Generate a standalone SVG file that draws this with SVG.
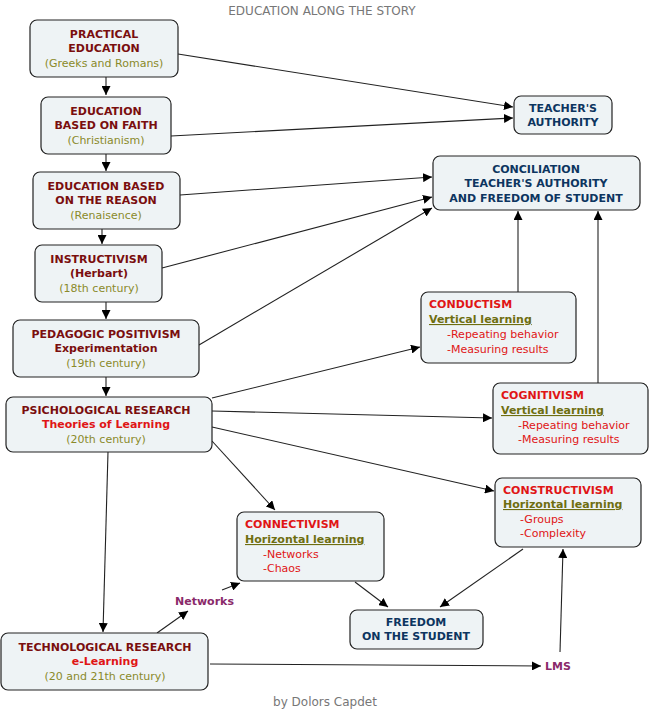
<svg xmlns="http://www.w3.org/2000/svg" width="650" height="723" viewBox="0 0 650 723">
<style>
text{font-family:"DejaVu Sans",Verdana,sans-serif;font-size:11px}
.n{fill:#eef3f5;stroke:#222;stroke-width:1.2}
.t{fill:#7a0e0e;font-weight:bold;text-anchor:middle}
.s{fill:#8a8a2a;text-anchor:middle}
.b{fill:#0d3560;font-weight:bold;text-anchor:middle}
.r{fill:#e01515;font-weight:bold}
.u{fill:#6e6e10;font-weight:bold;text-decoration:underline}
.i{fill:#e01515}
.l{fill:#8a2a6a;font-weight:bold}
.g{fill:#777;font-size:12px;text-anchor:middle}
#edges line{stroke:#222;stroke-width:1.1}
</style>
<defs><marker id="a" viewBox="0 0 10 10" refX="10" refY="5" markerWidth="9" markerHeight="9" markerUnits="userSpaceOnUse" orient="auto"><path d="M0,0L10,5L0,10z" fill="#000"/></marker></defs>
<text class="g" x="322" y="15">EDUCATION ALONG THE STORY</text>
<text class="g" x="325" y="706">by Dolors Capdet</text>
<g id="edges">
<line x1="106" y1="77" x2="106" y2="95" marker-end="url(#a)"/>
<line x1="106" y1="154" x2="106" y2="171" marker-end="url(#a)"/>
<line x1="102" y1="229" x2="102" y2="244" marker-end="url(#a)"/>
<line x1="106" y1="302" x2="106" y2="319" marker-end="url(#a)"/>
<line x1="106" y1="377" x2="106" y2="396" marker-end="url(#a)"/>
<line x1="108" y1="452" x2="103" y2="632" marker-end="url(#a)"/>
<line x1="178" y1="54" x2="513" y2="107" marker-end="url(#a)"/>
<line x1="171" y1="136" x2="513" y2="118" marker-end="url(#a)"/>
<line x1="180" y1="195" x2="432" y2="177" marker-end="url(#a)"/>
<line x1="162" y1="268" x2="432" y2="197" marker-end="url(#a)"/>
<line x1="199" y1="345" x2="432" y2="208" marker-end="url(#a)"/>
<line x1="518" y1="292" x2="518" y2="211" marker-end="url(#a)"/>
<line x1="598" y1="383" x2="598" y2="211" marker-end="url(#a)"/>
<line x1="212" y1="398" x2="420" y2="347" marker-end="url(#a)"/>
<line x1="212" y1="411" x2="492" y2="418" marker-end="url(#a)"/>
<line x1="212" y1="427" x2="494" y2="491" marker-end="url(#a)"/>
<line x1="212" y1="441" x2="275" y2="510" marker-end="url(#a)"/>
<line x1="157" y1="633" x2="188" y2="611" marker-end="url(#a)"/>
<line x1="222" y1="590" x2="240" y2="583" marker-end="url(#a)"/>
<line x1="210" y1="664" x2="541" y2="666" marker-end="url(#a)"/>
<line x1="560" y1="652" x2="563" y2="549" marker-end="url(#a)"/>
<line x1="523" y1="549" x2="440" y2="607" marker-end="url(#a)"/>
<line x1="355" y1="582" x2="388" y2="607" marker-end="url(#a)"/>
</g>
<text class="l" x="175" y="605">Networks</text>
<text class="l" x="545" y="670">LMS</text>
<g id="practical"><rect class="n" x="30" y="20" width="148" height="57" rx="7"/><text class="t" x="104" y="38">PRACTICAL</text><text class="t" x="104" y="52">EDUCATION</text><text class="s" x="104" y="67">(Greeks and Romans)</text></g>
<g id="faith"><rect class="n" x="41" y="97" width="130" height="57" rx="7"/><text class="t" x="106" y="115">EDUCATION</text><text class="t" x="106" y="129">BASED ON FAITH</text><text class="s" x="106" y="144">(Christianism)</text></g>
<g id="reason"><rect class="n" x="33" y="172" width="147" height="57" rx="7"/><text class="t" x="106" y="190">EDUCATION BASED</text><text class="t" x="106" y="204">ON THE REASON</text><text class="s" x="106" y="219">(Renaisence)</text></g>
<g id="instr"><rect class="n" x="35" y="245" width="127" height="57" rx="7"/><text class="t" x="99" y="263">INSTRUCTIVISM</text><text class="t" x="99" y="277">(Herbart)</text><text class="s" x="99" y="292">(18th century)</text></g>
<g id="ped"><rect class="n" x="13" y="320" width="186" height="57" rx="7"/><text class="t" x="106" y="338">PEDAGOGIC POSITIVISM</text><text class="t" x="106" y="352">Experimentation</text><text class="s" x="106" y="367">(19th century)</text></g>
<g id="psych"><rect class="n" x="6" y="397" width="206" height="55" rx="7"/><text class="t" x="106" y="414">PSICHOLOGICAL RESEARCH</text><text class="t" x="106" y="428" style="fill:#e01515">Theories of Learning</text><text class="s" x="106" y="443">(20th century)</text></g>
<g id="tech"><rect class="n" x="1" y="633" width="207" height="57" rx="7"/><text class="t" x="105" y="651">TECHNOLOGICAL RESEARCH</text><text class="t" x="105" y="665" style="fill:#e01515">e-Learning</text><text class="s" x="105" y="680">(20 and 21th century)</text></g>
<g id="teacher"><rect class="n" x="514" y="96" width="98" height="38" rx="7"/><text class="b" x="563" y="112">TEACHER'S</text><text class="b" x="563" y="126">AUTHORITY</text></g>
<g id="concil"><rect class="n" x="433" y="156" width="207" height="54" rx="7"/><text class="b" x="536" y="173">CONCILIATION</text><text class="b" x="536" y="187">TEACHER'S AUTHORITY</text><text class="b" x="536" y="202">AND FREEDOM OF STUDENT</text></g>
<g id="conduct"><rect class="n" x="421" y="292" width="155" height="71" rx="7"/><text class="r" x="429" y="308">CONDUCTISM</text><text class="u" x="429" y="323">Vertical learning</text><text class="i" x="447" y="338">-Repeating behavior</text><text class="i" x="447" y="353">-Measuring results</text></g>
<g id="cognit"><rect class="n" x="493" y="383" width="155" height="71" rx="7"/><text class="r" x="501" y="399">COGNITIVISM</text><text class="u" x="501" y="414">Vertical learning</text><text class="i" x="518" y="429">-Repeating behavior</text><text class="i" x="518" y="443">-Measuring results</text></g>
<g id="construct"><rect class="n" x="495" y="478" width="146" height="69" rx="7"/><text class="r" x="503" y="494">CONSTRUCTIVISM</text><text class="u" x="503" y="508">Horizontal learning</text><text class="i" x="520" y="523">-Groups</text><text class="i" x="520" y="537">-Complexity</text></g>
<g id="connect"><rect class="n" x="237" y="512" width="147" height="69" rx="7"/><text class="r" x="245" y="528">CONNECTIVISM</text><text class="u" x="245" y="543">Horizontal learning</text><text class="i" x="263" y="558">-Networks</text><text class="i" x="263" y="572">-Chaos</text></g>
<g id="freedom"><rect class="n" x="350" y="610" width="133" height="39" rx="7"/><text class="b" x="416" y="626">FREEDOM</text><text class="b" x="416" y="640">ON THE STUDENT</text></g>
</svg>
